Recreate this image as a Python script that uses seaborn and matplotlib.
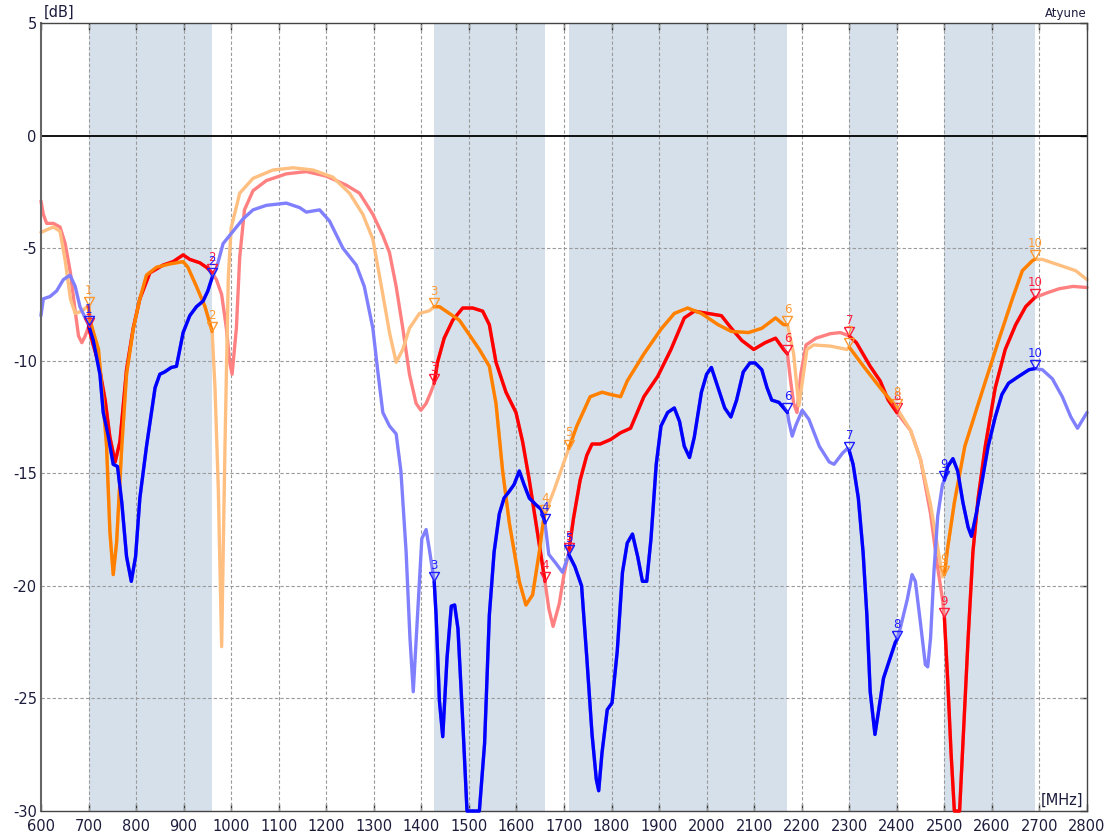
import numpy as np
import matplotlib
matplotlib.use("Agg")
import matplotlib.pyplot as plt
import seaborn as sns

# frequency bands (MHz) shown as shaded regions
band_lo = [700, 1427, 1710, 2300, 2500]
band_hi = [960, 1660, 2170, 2400, 2690]
marker_freqs = [700, 960, 1427, 1660, 1710, 2170, 2300, 2400, 2500, 2690]

# orange trace
orange_f = [600, 626, 640, 651, 662, 672, 686, 700, 703, 721, 731, 738, 745, 752, 759, 770, 780, 794, 808, 822,
            843, 871, 899, 909, 927, 945, 960, 966, 973, 980, 987, 994, 1000, 1018, 1046, 1088, 1130, 1172, 1214,
            1249, 1277, 1298, 1319, 1333, 1347, 1361, 1375, 1396, 1417, 1427, 1438, 1459, 1480, 1501, 1522, 1543,
            1557, 1571, 1585, 1606, 1620, 1634, 1648, 1656, 1660, 1680, 1700, 1710, 1727, 1755, 1780, 1798, 1819,
            1833, 1868, 1904, 1932, 1960, 1989, 2024, 2052, 2088, 2116, 2145, 2162, 2170, 2183, 2190, 2194, 2211,
            2225, 2260, 2295, 2300, 2330, 2365, 2400, 2429, 2450, 2471, 2486, 2496, 2500, 2507, 2521, 2543, 2579,
            2614, 2643, 2664, 2685, 2690, 2706, 2741, 2776, 2800]
orange_db = [-4.3, -4.06, -4.25, -5.56, -7.25, -7.9, -7.8, -7.55, -8.2, -9.5, -11.9, -13.8, -17.6, -19.5, -18.1,
             -13.8, -10.6, -8.6, -7.25, -6.2, -5.85, -5.7, -5.6, -5.85, -6.7, -7.6, -8.7, -11.2, -15.7, -22.7,
             -13.8, -6.3, -4.1, -2.56, -1.9, -1.53, -1.43, -1.53, -1.85, -2.56, -3.5, -4.6, -7.06, -8.75, -10.07,
             -9.5, -8.56, -7.9, -7.78, -7.6, -7.6, -7.9, -8.2, -8.85, -9.5, -10.25, -11.9, -14.9, -17.2, -19.8,
             -20.85, -20.4, -18.5, -17.2, -16.8, -15.7, -14.5, -13.9, -12.9, -11.6, -11.4, -11.5, -11.6, -10.9,
             -9.7, -8.6, -7.9, -7.66, -7.9, -8.4, -8.7, -8.75, -8.56, -8.1, -8.4, -8.4, -9.7, -11.2, -12.0, -9.5,
             -9.3, -9.35, -9.5, -9.4, -10.25, -11.2, -12.1, -13.1, -14.4, -16.4, -18.3, -19.6, -19.5, -18.3,
             -16.3, -13.8, -11.4, -9.1, -7.25, -6.0, -5.56, -5.5, -5.5, -5.75, -6.0, -6.4]

# red trace
red_f = [600, 605, 612, 626, 640, 651, 662, 672, 679, 686, 693, 700, 710, 721, 735, 745, 756, 766, 780, 794, 808,
         829, 857, 878, 899, 913, 934, 948, 960, 969, 980, 990, 997, 1002, 1011, 1018, 1028, 1046, 1074, 1116, 1158,
         1200, 1242, 1270, 1298, 1319, 1333, 1347, 1361, 1375, 1389, 1399, 1410, 1420, 1427, 1434, 1448, 1466,
         1487, 1508, 1529, 1543, 1557, 1578, 1599, 1613, 1627, 1641, 1652, 1660, 1668, 1677, 1690, 1700, 1710,
         1720, 1734, 1748, 1759, 1776, 1798, 1819, 1840, 1868, 1897, 1925, 1953, 1974, 2003, 2031, 2052, 2074,
         2099, 2123, 2145, 2162, 2170, 2176, 2183, 2190, 2198, 2209, 2230, 2260, 2281, 2300, 2315, 2344, 2365,
         2382, 2400, 2429, 2450, 2471, 2486, 2496, 2500, 2507, 2514, 2521, 2527, 2532, 2539, 2550, 2560, 2571,
         2586, 2607, 2628, 2650, 2671, 2690, 2714, 2742, 2771, 2800]
red_db = [-2.9, -3.5, -3.9, -3.9, -4.06, -4.8, -6.1, -7.8, -8.9, -9.2, -8.9, -8.5, -9.3, -10.1, -11.75, -13.4,
          -14.5, -13.6, -10.4, -8.56, -7.25, -6.1, -5.75, -5.6, -5.3, -5.5, -5.65, -5.85, -6.1, -6.4, -7.06, -8.56,
          -10.07, -10.6, -8.56, -5.4, -3.3, -2.45, -2.0, -1.7, -1.6, -1.8, -2.2, -2.56, -3.5, -4.44, -5.2, -6.7,
          -8.56, -10.6, -11.9, -12.2, -11.9, -11.4, -11.0, -10.07, -9.0, -8.2, -7.66, -7.66, -7.8, -8.4, -10.07,
          -11.4, -12.3, -13.6, -15.3, -17.2, -18.7, -19.8, -21.0, -21.8, -20.8, -19.5, -18.5, -17.0, -15.3, -14.2,
          -13.7, -13.7, -13.5, -13.2, -13.0, -11.6, -10.7, -9.5, -8.1, -7.8, -7.9, -8.0, -8.56, -9.1, -9.5, -9.2,
          -9.0, -9.5, -9.7, -10.8, -11.9, -12.3, -10.6, -9.3, -9.0, -8.8, -8.75, -8.9, -9.2, -10.25, -10.9,
          -11.75, -12.3, -13.1, -14.4, -16.8, -19.2, -20.6, -21.4, -24.2, -27.4, -30.0, -30.0, -30.0, -27.0,
          -22.3, -18.5, -16.1, -13.8, -11.2, -9.5, -8.4, -7.6, -7.2, -7.0, -6.8, -6.7, -6.75]

# blue trace
blue_f = [600, 605, 619, 633, 647, 661, 672, 682, 693, 700, 710, 724, 731, 742, 752, 761, 770, 780, 790, 799, 808,
          822, 840, 850, 860, 874, 885, 899, 913, 927, 941, 951, 960, 969, 983, 1004, 1025, 1046, 1074, 1116, 1144,
          1158, 1186, 1207, 1235, 1263, 1280, 1298, 1308, 1319, 1333, 1347, 1357, 1368, 1376, 1383, 1392, 1401,
          1410, 1417, 1427, 1431, 1438, 1445, 1454, 1463, 1470, 1477, 1487, 1496, 1510, 1522, 1533, 1543, 1553,
          1564, 1574, 1585, 1595, 1606, 1616, 1627, 1641, 1652, 1660, 1668, 1683, 1697, 1705, 1710, 1723, 1737,
          1748, 1759, 1768, 1773, 1780, 1791, 1801, 1812, 1823, 1833, 1844, 1855, 1865, 1874, 1883, 1894, 1904,
          1918, 1932, 1943, 1953, 1964, 1974, 1989, 2000, 2010, 2024, 2038, 2051, 2063, 2077, 2091, 2102, 2116,
          2127, 2137, 2152, 2162, 2170, 2173, 2180, 2187, 2201, 2215, 2237, 2258, 2268, 2286, 2296, 2300, 2308,
          2319, 2329, 2337, 2344, 2354, 2362, 2372, 2386, 2397, 2400, 2407, 2422, 2432, 2439, 2450, 2460, 2465,
          2471, 2478, 2486, 2496, 2500, 2507, 2518, 2528, 2539, 2550, 2557, 2567, 2578, 2592, 2607, 2621, 2635,
          2656, 2678, 2690, 2706, 2727, 2748, 2766, 2780, 2800]
blue_db = [-8.0, -7.25, -7.15, -6.9, -6.4, -6.2, -6.7, -7.6, -8.1, -8.4, -9.1, -10.6, -12.3, -13.4, -14.6, -14.7,
           -16.3, -18.7, -19.8, -18.7, -16.1, -13.8, -11.2, -10.6, -10.5, -10.3, -10.25, -8.75, -8.0, -7.6, -7.35,
           -6.9, -6.3, -5.9, -4.8, -4.25, -3.7, -3.3, -3.1, -3.0, -3.2, -3.4, -3.3, -3.8, -5.0, -5.75, -6.7, -8.56,
           -10.4, -12.3, -12.9, -13.25, -14.9, -18.5, -22.3, -24.7, -21.3, -17.9, -17.5, -18.4, -19.8, -21.3,
           -25.1, -26.7, -23.2, -20.9, -20.85, -21.9, -26.0, -30.0, -30.0, -30.0, -27.0, -21.3, -18.5, -16.8,
           -16.1, -15.8, -15.5, -14.9, -15.5, -16.1, -16.4, -16.6, -17.2, -18.6, -19.0, -19.4, -18.9, -18.6,
           -19.15, -20.0, -23.2, -26.6, -28.6, -29.1, -27.4, -25.5, -25.2, -22.9, -19.4, -18.1, -17.7, -18.7,
           -19.8, -19.8, -17.9, -14.6, -12.9, -12.3, -12.1, -12.7, -13.8, -14.3, -13.4, -11.4, -10.6, -10.3,
           -11.2, -12.1, -12.5, -11.75, -10.5, -10.1, -10.1, -10.4, -11.2, -11.75, -11.85, -12.1, -12.3, -12.7,
           -13.35, -12.9, -12.2, -12.6, -13.8, -14.5, -14.6, -14.1, -13.9, -14.0, -14.6, -16.1, -18.5, -21.3,
           -24.7, -26.6, -25.5, -24.1, -23.2, -22.5, -22.4, -21.9, -20.6, -19.5, -19.8, -21.7, -23.5, -23.6,
           -22.3, -19.4, -16.9, -15.5, -15.3, -14.7, -14.35, -14.9, -16.3, -17.4, -17.8, -16.8, -15.5, -13.8,
           -12.5, -11.5, -11.0, -10.7, -10.4, -10.35, -10.4, -10.8, -11.6, -12.5, -13.0, -12.3]

traces = [
    (np.array(red_f), np.array(red_db), "#ff0000", "#ff8080", "#ff2040"),
    (np.array(orange_f), np.array(orange_db), "#ff8000", "#ffbf80", "#ff9933"),
    (np.array(blue_f), np.array(blue_db), "#0000ff", "#8080ff", "#2020ff"),
]

sns.set_style("white")
plt.rcParams["font.family"] = ["DejaVu Sans"]
plt.rcParams["axes.unicode_minus"] = False

fig = plt.figure(figsize=(11.1, 8.36), dpi=100)
ax = fig.add_axes([0.0369, 0.0299, 0.9424, 0.9426])

for lo, hi in zip(band_lo, band_hi):
    ax.axvspan(lo, hi, color="#d5e0eb", lw=0, zorder=0)

for x in range(700, 2800, 100):
    ax.axvline(x, color="#9a9a9a", lw=0.8, ls=(0, (3, 2)), zorder=1)
for y in [-25, -20, -15, -10, -5]:
    ax.axhline(y, color="#9a9a9a", lw=0.8, ls=(0, (3, 2)), zorder=1)
ax.axhline(0, color="black", lw=1.3, zorder=1)

# light full traces, then dark segments inside bands
for f, v, dark, light, lab in traces:
    sns.lineplot(x=f, y=v, color=light, lw=2.4, sort=False, estimator=None, ax=ax, zorder=2, clip_on=False)
for f, v, dark, light, lab in traces:
    for lo, hi in zip(band_lo, band_hi):
        m = (f >= lo) & (f <= hi)
        sns.lineplot(x=f[m], y=v[m], color=dark, lw=2.4, sort=False, estimator=None, ax=ax, zorder=3,
                     clip_on=False)

tri = [(-0.55, 1.0), (0.55, 1.0), (0.0, 0.0), (-0.55, 1.0)]
for f, v, dark, light, lab in traces:
    mv = np.interp(marker_freqs, f, v)
    ax.plot(marker_freqs, mv, ls="none", marker=tri, ms=13, mfc="none", mec=lab, mew=1.0, zorder=4)
    for i, (mx, my) in enumerate(zip(marker_freqs, mv)):
        ax.annotate(str(i + 1), (mx, my), xytext=(0, 6.5), textcoords="offset points", ha="center",
                    va="bottom", color=lab, fontsize=8.5, zorder=5)

ax.set_xlim(600, 2800)
ax.set_ylim(-30, 5)
ax.set_xticks(range(600, 2801, 100))
ax.set_yticks(range(-30, 6, 5))
ax.set_xlabel("")
ax.set_ylabel("")
ax.tick_params(axis="x", direction="in", top=True, bottom=True, length=5, width=1, color="#333333",
               labelsize=10.5, labelcolor="#1c1c3c", pad=6)
ax.tick_params(axis="y", direction="in", left=False, right=True, length=5, width=1, color="#333333",
               labelsize=10.5, labelcolor="#1c1c3c", pad=3)
for s in ax.spines.values():
    s.set_color("#444444")
    s.set_linewidth(1.0)
    s.set_visible(True)
ax.spines["left"].set_color("#666666")
ax.spines["left"].set_linewidth(1.5)

ax.text(0.003, 1.004, "[dB]", transform=ax.transAxes, ha="left", va="bottom", fontsize=10.5, color="#1c1c3c")
ax.text(1.0, 1.004, "Atyune", transform=ax.transAxes, ha="right", va="bottom", fontsize=8.5, color="#1c1c3c")
ax.text(0.996, 0.004, "[MHz]", transform=ax.transAxes, ha="right", va="bottom", fontsize=10.5, color="#1c1c3c",
        zorder=6)

fig.savefig("out.png", dpi=100)
